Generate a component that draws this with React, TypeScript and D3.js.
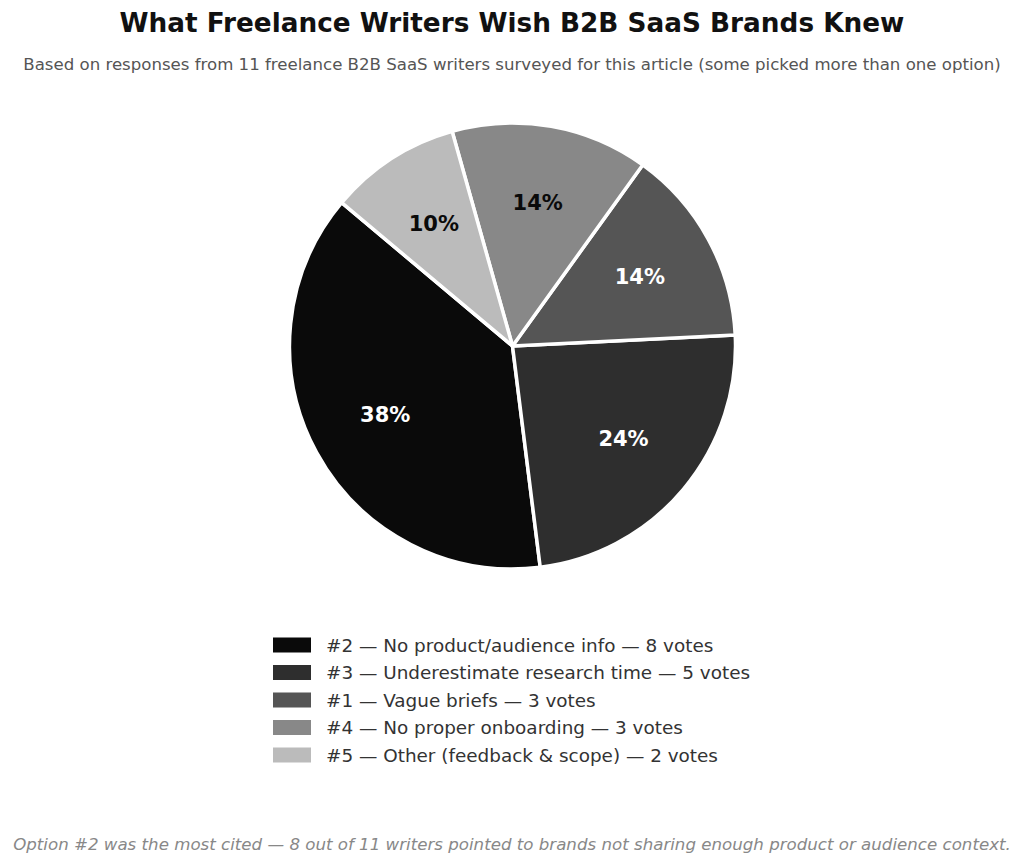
import React from "react";
import * as d3 from "d3";

const labels = [
  "#2 — No product/audience info — 8 votes",
  "#3 — Underestimate research time — 5 votes",
  "#1 — Vague briefs — 3 votes",
  "#4 — No proper onboarding — 3 votes",
  "#5 — Other (feedback & scope) — 2 votes",
];
const votes = [8, 5, 3, 3, 2];
const colors = ["#0a0a0a", "#2e2e2e", "#555555", "#888888", "#bbbbbb"];
const textColors = ["#ffffff", "#ffffff", "#ffffff", "#0a0a0a", "#0a0a0a"];

const W = 1024;
const H = 866;
const cx = 512.5;
const cy = 346;
const R = 223;
const font = "DejaVu Sans, sans-serif";

export default function App() {
  const total = d3.sum(votes);
  const start = (-50 * Math.PI) / 180;
  const pie = d3
    .pie<number>()
    .sort(null)
    .value((d) => d)
    .startAngle(start)
    .endAngle(start - 2 * Math.PI);
  const arcs = pie(votes);
  const arc = d3.arc<d3.PieArcDatum<number>>().innerRadius(0).outerRadius(R);
  const labelArc = d3
    .arc<d3.PieArcDatum<number>>()
    .innerRadius(R * 0.65)
    .outerRadius(R * 0.65);

  const legendY = d3.scaleLinear().domain([0, 4]).range([645, 755]);

  return (
    <svg width={W} height={H} style={{ position: "absolute", left: 0, top: 0 }}>
      <rect width={W} height={H} fill="#ffffff" />
      <text x={512} y={32} textAnchor="middle" fontFamily={font} fontWeight="bold" fontSize={26.3} fill="#111">
        What Freelance Writers Wish B2B SaaS Brands Knew
      </text>
      <text x={512} y={70} textAnchor="middle" fontFamily={font} fontSize={16.6} fill="#555">
        Based on responses from 11 freelance B2B SaaS writers surveyed for this article (some picked more than one option)
      </text>
      <g transform={`translate(${cx},${cy})`}>
        {arcs.map((a, i) => (
          <path key={i} d={arc(a) || ""} fill={colors[i]} stroke="#ffffff" strokeWidth={3.5} strokeLinejoin="round" />
        ))}
        {arcs.map((a, i) => {
          const [x, y] = labelArc.centroid(a);
          return (
            <text
              key={"l" + i}
              x={x}
              y={y}
              textAnchor="middle"
              dominantBaseline="central"
              fontFamily={font}
              fontWeight="bold"
              fontSize={21}
              fill={textColors[i]}
            >
              {`${Math.round((votes[i] / total) * 100)}%`}
            </text>
          );
        })}
      </g>
      <g>
        {labels.map((l, i) => (
          <g key={i} transform={`translate(0,${legendY(i)})`}>
            <rect x={273} y={-7.5} width={38} height={15} fill={colors[i]} />
            <text x={326} y={0} dominantBaseline="central" fontFamily={font} fontSize={18.4} fill="#333">
              {l}
            </text>
          </g>
        ))}
      </g>
      <text x={512} y={850} textAnchor="middle" fontFamily={font} fontStyle="italic" fontSize={16.65} fill="#888">
        Option #2 was the most cited — 8 out of 11 writers pointed to brands not sharing enough product or audience context.
      </text>
    </svg>
  );
}
